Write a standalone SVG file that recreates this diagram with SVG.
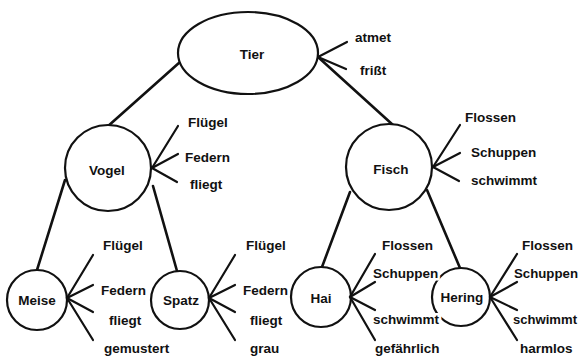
<svg xmlns="http://www.w3.org/2000/svg" width="579" height="356" viewBox="0 0 579 356">
  <style>
    .node { fill: #fff; stroke: #111; stroke-width: 2.2; }
    .edge { stroke: #111; stroke-width: 2.6; fill: none; stroke-linecap: round; }
    .attr { stroke: #111; stroke-width: 2.2; fill: none; stroke-linecap: round; }
    text { font-family: "Liberation Sans", Arial, sans-serif; font-weight: bold; font-size: 13.5px; fill: #111; }
    .name { text-anchor: middle; dominant-baseline: central; }
    .knock { paint-order: stroke; stroke: #fff; stroke-width: 5; }
  </style>
  <rect width="579" height="356" fill="#fff"/>

  <!-- tree edges -->
  <g id="connectors">
    <line class="edge" x1="180" y1="62" x2="107" y2="127"/>
    <line class="edge" x1="318" y1="57" x2="393" y2="125"/>
    <line class="edge" x1="65" y1="180" x2="37" y2="270"/>
    <line class="edge" x1="153" y1="186" x2="177" y2="271"/>
    <line class="edge" x1="350" y1="192" x2="322" y2="267"/>
    <line class="edge" x1="427" y1="190" x2="460" y2="268"/>
  </g>

  <g id="tier">
    <ellipse class="node" cx="248" cy="53" rx="70" ry="41"/>
    <text class="name" x="252" y="54">Tier</text>
    <line class="attr" x1="318" y1="57" x2="347" y2="42"/>
    <line class="attr" x1="318" y1="57" x2="346" y2="69"/>
    <text x="355" y="42">atmet</text>
    <text x="360" y="75">frißt</text>
  </g>

  <g id="vogel">
    <circle class="node" cx="108" cy="168" r="43"/>
    <text class="name" x="107" y="170">Vogel</text>
    <line class="attr" x1="152" y1="168" x2="178" y2="126"/>
    <line class="attr" x1="152" y1="168" x2="178" y2="154"/>
    <line class="attr" x1="152" y1="168" x2="177" y2="182"/>
    <text x="188" y="127">Flügel</text>
    <text x="185" y="162">Federn</text>
    <text x="190" y="189">fliegt</text>
  </g>

  <g id="fisch">
    <circle class="node" cx="389" cy="167" r="43"/>
    <text class="name" x="391" y="169">Fisch</text>
    <line class="attr" x1="433" y1="167" x2="460" y2="125"/>
    <line class="attr" x1="433" y1="167" x2="460" y2="153"/>
    <line class="attr" x1="433" y1="167" x2="459" y2="181"/>
    <text x="465" y="122">Flossen</text>
    <text x="471" y="157">Schuppen</text>
    <text x="471" y="185">schwimmt</text>
  </g>

  <g id="meise">
    <circle class="node" cx="37" cy="300" r="30"/>
    <text class="name" x="37" y="300">Meise</text>
    <line class="attr" x1="67" y1="298" x2="93" y2="255"/>
    <line class="attr" x1="67" y1="298" x2="93" y2="285"/>
    <line class="attr" x1="67" y1="298" x2="93" y2="312"/>
    <line class="attr" x1="67" y1="298" x2="93" y2="340"/>
    <text x="103" y="250">Flügel</text>
    <text x="101" y="295">Federn</text>
    <text x="109" y="325">fliegt</text>
    <text x="104" y="353">gemustert</text>
  </g>

  <g id="spatz">
    <circle class="node" cx="180" cy="300" r="29"/>
    <text class="name" x="181" y="300">Spatz</text>
    <line class="attr" x1="209" y1="298" x2="235" y2="255"/>
    <line class="attr" x1="209" y1="298" x2="235" y2="285"/>
    <line class="attr" x1="209" y1="298" x2="235" y2="312"/>
    <line class="attr" x1="209" y1="298" x2="235" y2="340"/>
    <text x="246" y="250">Flügel</text>
    <text x="243" y="295">Federn</text>
    <text x="250" y="325">fliegt</text>
    <text x="250" y="353">grau</text>
  </g>

  <g id="hering">
    <circle class="node" cx="461" cy="297" r="29"/>
    <text class="name" x="462" y="297">Hering</text>
    <line class="attr" x1="490" y1="297" x2="517" y2="254"/>
    <line class="attr" x1="490" y1="297" x2="517" y2="282"/>
    <line class="attr" x1="490" y1="297" x2="517" y2="310"/>
    <line class="attr" x1="490" y1="297" x2="517" y2="340"/>
    <text x="522" y="250">Flossen</text>
    <text x="514" y="278" textLength="64" lengthAdjust="spacingAndGlyphs">Schuppen</text>
    <text x="513" y="324" textLength="64" lengthAdjust="spacingAndGlyphs">schwimmt</text>
    <text x="520" y="353">harmlos</text>
  </g>

  <g id="hai">
    <circle class="node" cx="321" cy="297" r="30"/>
    <text class="name" x="321" y="298">Hai</text>
    <line class="attr" x1="350" y1="297" x2="375" y2="254"/>
    <line class="attr" x1="350" y1="297" x2="375" y2="282"/>
    <line class="attr" x1="350" y1="297" x2="375" y2="310"/>
    <line class="attr" x1="350" y1="297" x2="375" y2="340"/>
    <text x="382" y="250">Flossen</text>
    <text class="knock" x="373" y="278">Schuppen</text>
    <text class="knock" x="373" y="324">schwimmt</text>
    <text x="375" y="353">gefährlich</text>
  </g>
</svg>
